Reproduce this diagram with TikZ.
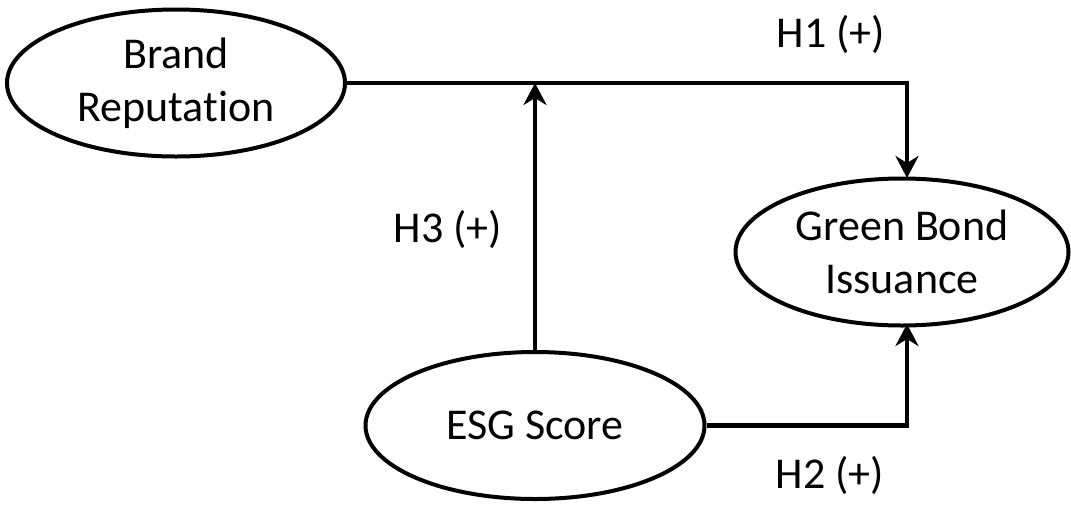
\documentclass[tikz,border=0pt]{standalone}
\usepackage{fontspec}
\setmainfont{Carlito}[Ligatures=NoCommon]
\usetikzlibrary{shapes.geometric,arrows.meta}
\begin{document}
\begin{tikzpicture}[x=1pt,y=-1pt,
  construct/.style={draw,ellipse,line width=4pt,inner sep=0pt,
    minimum width=338pt,minimum height=147pt,align=center,
    font=\fontsize{44}{53}\selectfont},
  link/.style={line width=4.2pt,
    -{Stealth[length=22pt,width=23pt,inset=7pt]}},
  hyp/.style={anchor=base,inner sep=0pt,font=\fontsize{44}{53}\selectfont}]
\useasboundingbox[fill=white] (0,0) rectangle (1071,507);

% constructs
\node[construct] (br) at (176,83) {Brand\\Reputation};
\node[construct,minimum width=333pt] (gb) at (902,252) {Green Bond\\Issuance};
\node[construct,minimum width=339pt] (es) at (535,425.5) {ESG Score};

% routing points
\coordinate (gbtop) at (907,178);
\coordinate (gbbot) at (907,324);
\coordinate (turn1) at (gbtop |- br.east);
\coordinate (turn2) at (gbbot |- es.east);
\coordinate (join) at (es.north |- br.east);

% hypotheses
\draw[link] (br.east) -- (turn1) -- (gbtop);
\draw[link] (es.east) -- (turn2) -- (gbbot);
\draw[link] (es.north) -- (join);

% labels
\node[hyp] (h1) at (831,47) {H1 (+)};
\node[hyp] (h3) at (448,242) {H3 (+)};
\node[hyp] (h2) at (830,488) {H2 (+)};
\end{tikzpicture}
\end{document}
